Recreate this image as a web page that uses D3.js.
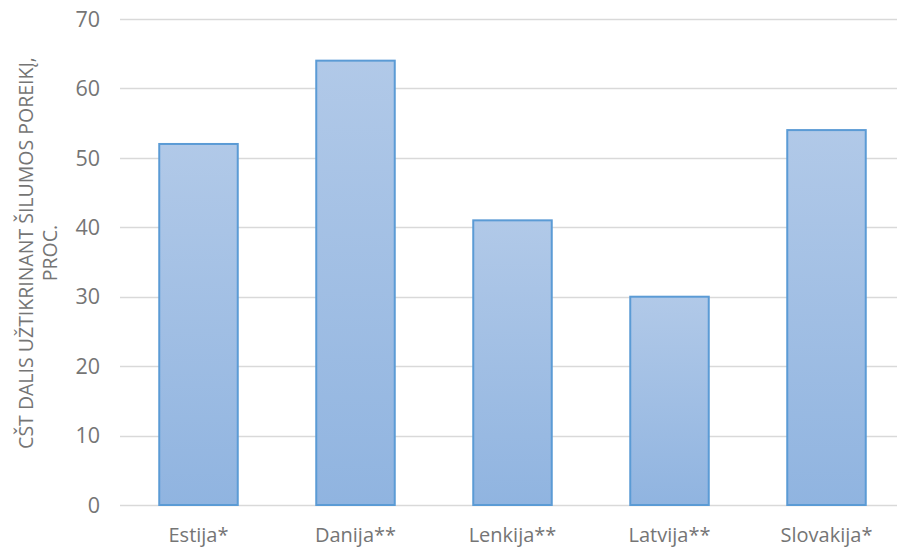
<!DOCTYPE html>
<html>
<head>
<meta charset="utf-8">
<script src="https://cdn.jsdelivr.net/npm/d3@7"></script>
<style>
body{margin:0;background:#fff;}
text{font-family:"Open Sans","Noto Sans",sans-serif;fill:#757575;}
</style>
</head>
<body>
<svg id="chart" width="897" height="548"></svg>
<script>
// data
var countries = ["Estija*", "Danija**", "Lenkija**", "Latvija**", "Slovakija*"];
var values = [52, 64, 41, 30, 54];
var yTicks = [0, 10, 20, 30, 40, 50, 60, 70];
var yTitle = ["CŠT DALIS UŽTIKRINANT ŠILUMOS POREIKĮ,", "PROC."];

var svg = d3.select("#chart");
// plot area (note: "top" is taken by window.top, so use plotTop)
var plotLeft = 120, plotRight = 905, plotTop = 19, plotBottom = 505;

var x = d3.scaleBand()
	.domain(countries)
	.range([plotLeft, plotRight])
	.paddingInner(0.5)
	.paddingOuter(0.25);

var y = d3.scaleLinear()
	.domain([0, 70])
	.range([plotBottom, plotTop]);

// gradient for bars
var grad = svg.append("defs").append("linearGradient")
	.attr("id", "barGrad")
	.attr("x1", 0).attr("y1", 0).attr("x2", 0).attr("y2", 1);
grad.append("stop").attr("offset", "0%").attr("stop-color", "#b1c9e8");
grad.append("stop").attr("offset", "100%").attr("stop-color", "#90b4e0");

// gridlines
svg.append("g")
	.selectAll("line")
	.data(yTicks)
	.enter()
	.append("line")
	.attr("x1", plotLeft)
	.attr("x2", plotRight)
	.attr("y1", function(d){ return Math.round(y(d)) + 0.5; })
	.attr("y2", function(d){ return Math.round(y(d)) + 0.5; })
	.style("stroke", "#d9d9d9")
	.style("stroke-width", 1.3);

// y tick labels
svg.append("g")
	.selectAll("text")
	.data(yTicks)
	.enter()
	.append("text")
	.attr("x", 100)
	.attr("y", function(d){ return y(d); })
	.attr("dy", "0.36em")
	.attr("text-anchor", "end")
	.style("font-size", "21.5px")
	.text(function(d){ return d; });

// bars
svg.append("g")
	.selectAll("rect")
	.data(values)
	.enter()
	.append("rect")
	.attr("x", function(d, i){ return x(countries[i]); })
	.attr("width", x.bandwidth())
	.attr("y", function(d){ return y(d); })
	.attr("height", function(d){ return y(0) - y(d); })
	.style("fill", "url(#barGrad)")
	.style("stroke", "#5b9bd5")
	.style("stroke-width", 2);

// x labels
svg.append("g")
	.selectAll("text")
	.data(countries)
	.enter()
	.append("text")
	.attr("x", function(d){ return x(d) + x.bandwidth() / 2; })
	.attr("y", 542)
	.attr("text-anchor", "middle")
	.style("font-size", "20px")
	.text(function(d){ return d; });

// y axis title
var title = svg.append("text")
	.attr("transform", "translate(33,253) rotate(-90)")
	.attr("text-anchor", "middle")
	.style("font-size", "19.5px");
title.selectAll("tspan")
	.data(yTitle)
	.enter()
	.append("tspan")
	.attr("x", 0)
	.attr("dy", function(d, i){ return i == 0 ? 0 : 24; })
	.text(function(d){ return d; });
</script>
</body>
</html>
